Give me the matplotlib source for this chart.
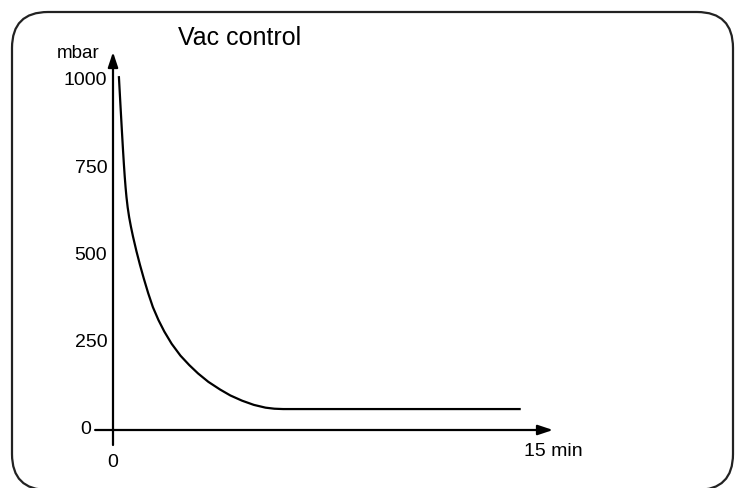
import matplotlib
matplotlib.use("Agg")
import matplotlib.pyplot as plt
from matplotlib.patches import FancyBboxPatch
from matplotlib.transforms import IdentityTransform

plt.rcParams["font.family"] = ["Liberation Sans", "DejaVu Sans"]

# Pressure curve of the vacuum controller (time in minutes, pressure in mbar)
time_min = [0.20, 0.25, 0.30, 0.34, 0.37, 0.40, 0.43, 0.46, 0.50, 0.55,
            0.61, 0.68, 0.80, 0.92, 1.05, 1.20, 1.36, 1.55, 1.75, 2.00,
            2.30, 2.60, 2.90, 3.25, 3.65, 4.00, 4.40, 4.80, 5.20, 5.50,
            5.80, 13.9]
pressure_mbar = [1014, 937, 862, 804, 763, 726, 694, 667, 638, 610,
                 583, 555, 512, 473, 434, 392, 352, 315, 282, 247,
                 213, 186, 162, 138, 116, 99, 84, 72, 64, 61,
                 60, 60]

y_ticks = [0, 250, 500, 750, 1000]
y_tick_labels = ["0", "250", "500", "750", "1000"]
x_ticks = [0, 15]
x_tick_labels = ["0", "15 min"]
y_unit = "mbar"
title = "Vac control"

W, H = 739, 488
fig = plt.figure(figsize=(W / 100, H / 100), dpi=100)
ax = fig.add_axes([0, 0, 1, 1])

# data -> pixel mapping: 0 min at x=113 px, 15 min at x=553 px;
# 0 mbar at y=430 px (from top), 1000 mbar at y=81 px
px_per_min = 440 / 15
px_per_mbar = 0.349
ax.set_xlim(-113 / px_per_min, (W - 113) / px_per_min)
ax.set_ylim(-(H - 430) / px_per_mbar, 430 / px_per_mbar)
ax.axis("off")

arrow = dict(arrowstyle="-|>,head_length=0.9,head_width=0.3", lw=1.6,
             color="black", mutation_scale=10, shrinkA=0, shrinkB=0)
# x axis
ax.annotate("", xy=(x_ticks[-1], 0), xytext=(-0.61, 0), arrowprops=arrow)
# y axis
ax.annotate("", xy=(0, 1083), xytext=(0, -43), arrowprops=arrow)

# pressure curve
ax.plot(time_min, pressure_mbar, color="black", lw=1.6,
        solid_capstyle="butt", solid_joinstyle="round")

# y tick labels
for v, lab in zip(y_ticks, y_tick_labels):
    xpos = -0.75 if v == 0 else -0.2
    ax.text(xpos, v, lab, ha="right", va="center", fontsize=14)

# x tick labels
ax.text(x_ticks[0], -92, x_tick_labels[0], ha="center", va="center", fontsize=14)
ax.text(x_ticks[1], -63, x_tick_labels[1], ha="center", va="center", fontsize=14)

ax.text(-1.19, 1066, y_unit, ha="center", va="baseline", fontsize=13.5)
ax.text(4.33, 1103, title, ha="center", va="baseline", fontsize=18)

# rounded frame around the panel
frame = FancyBboxPatch((12, -2), 721, 478,
                       boxstyle="round,pad=0,rounding_size=36",
                       transform=IdentityTransform(), fill=False,
                       lw=1.6, ec="#222222")
fig.add_artist(frame)

fig.savefig("out.png", dpi=100)
